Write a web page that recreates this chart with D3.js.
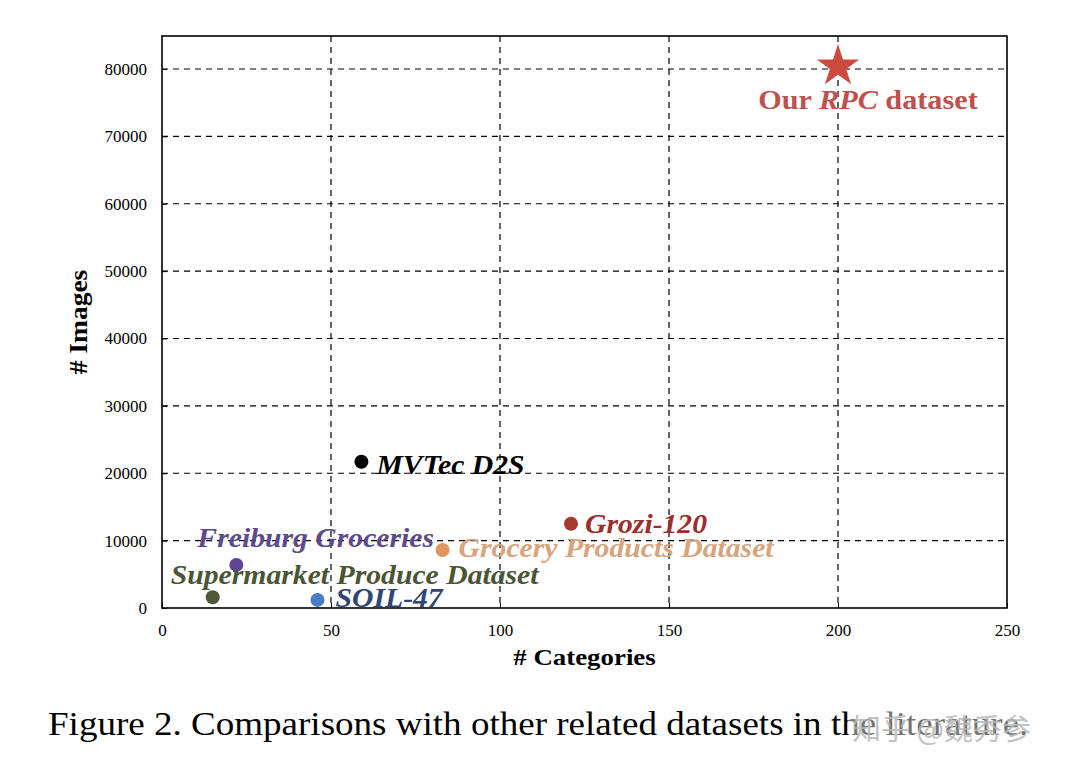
<!DOCTYPE html>
<html><head><meta charset="utf-8">
<script src="https://cdn.jsdelivr.net/npm/d3@7"></script>
<style>body{margin:0;background:#fff}svg{display:block}</style>
</head><body>
<svg id="c" width="1080" height="770"></svg>
<script>
const names = ["Our RPC dataset","MVTec D2S","Grozi-120","Grocery Products Dataset","Freiburg Groceries","Supermarket Produce Dataset","SOIL-47"];
const categories = [200, 59, 121, 83, 22, 15, 46];
const images = [80700, 21700, 12500, 8600, 6400, 1600, 1200];
const dotColors = ["#cc4a3e","#000000","#a53a30","#e0975f","#5e4596","#4d5b38","#4a7cc4"];
const labelColors = ["#c0504d","#000000","#9a2f2c","#d6a47e","#5d4a8c","#4b5536","#2f4676"];
const xTicks = [0,50,100,150,200,250];
const yTicks = [0,10000,20000,30000,40000,50000,60000,70000,80000];

const svg = d3.select("#c");
const L=162,R=1007,T=36,B=608;
const x = d3.scaleLinear().domain([0,250]).range([L,R]);
const y = d3.scaleLinear().domain([0,80000]).range([B,69]);
const serif = "'Liberation Serif','Times New Roman',serif";

// grid
const g = svg.append("g");
g.selectAll(".gx").data(xTicks.slice(1,-1)).enter().append("line")
  .attr("x1",d=>x(d)).attr("x2",d=>x(d)).attr("y1",T).attr("y2",B)
  .attr("stroke","#000").attr("stroke-width",1.2).attr("stroke-dasharray","6,5");
g.selectAll(".gy").data(yTicks.slice(1)).enter().append("line")
  .attr("x1",L).attr("x2",R).attr("y1",d=>y(d)).attr("y2",d=>y(d))
  .attr("stroke","#000").attr("stroke-width",1.2).attr("stroke-dasharray","6,5");

// axes
const xa = svg.append("g").attr("transform",`translate(0,${B})`)
  .call(d3.axisBottom(x).tickValues(xTicks).tickSize(-5).tickPadding(16).tickFormat(d3.format("d")));
const ya = svg.append("g").attr("transform",`translate(${L},0)`)
  .call(d3.axisLeft(y).tickValues(yTicks).tickSize(-5).tickPadding(15).tickFormat(d3.format("d")));
[xa,ya].forEach(a=>{
  a.attr("font-family",serif).attr("font-size",17);
  a.select(".domain").remove();
  a.selectAll("text").attr("fill","#000");
  a.selectAll("line").attr("stroke","#000");
});
svg.append("rect").attr("x",L).attr("y",T).attr("width",R-L).attr("height",B-T)
  .attr("fill","none").attr("stroke","#000").attr("stroke-width",1.6);

// stretched text helper
function txt(px,py,size,sx,anchor,rot){
  return svg.append("text")
    .attr("transform",`translate(${px},${py})${rot?` rotate(${rot})`:""} scale(${sx},1)`)
    .attr("text-anchor",anchor).attr("font-family",serif).attr("font-size",size);
}

// axis titles
txt((L+R)/2,665,24,1.12,"middle").attr("font-weight","bold").text("# Categories");
txt(87,(T+B)/2,25,1.1,"middle",-90).attr("font-weight","bold").text("# Images");

// points
const data = names.map((n,i)=>({n,c:categories[i],v:images[i],dc:dotColors[i],lc:labelColors[i]}));
data.forEach((d,i)=>{
  if(i===0){
    svg.append("path").attr("d",d3.symbol().type(d3.symbolStar).size(560)())
      .attr("transform",`translate(${x(d.c)},${y(d.v)+2})`).attr("fill",d.dc);
  } else {
    svg.append("circle").attr("cx",x(d.c)).attr("cy",y(d.v)).attr("r",7).attr("fill",d.dc);
  }
});
// labels (offsets relative to point)
const offs = [[30,45,"middle"],[15,12,"start"],[14,9,"start"],[16,7,"start"],[-39,-18,"start"],[-42,-13,"start"],[18,7,"start"]];
data.forEach((d,i)=>{
  const t = txt(x(d.c)+offs[i][0], y(d.v)+offs[i][1], i===0?27.5:27, 1.1, offs[i][2])
    .attr("font-weight","bold").attr("fill",d.lc);
  if(i===0){
    t.append("tspan").text("Our ");
    t.append("tspan").attr("font-style","italic").text("RPC");
    t.append("tspan").text(" dataset");
  } else {
    t.attr("font-style","italic").text(d.n);
  }
});

// caption
txt(48,735,34,1.09,"start").attr("fill","#000")
  .text("Figure 2. Comparisons with other related datasets in the literature.");
svg.append("rect").attr("x",848).attr("y",708).attr("width",210).attr("height",40)
  .attr("fill","#fff").attr("opacity",0.45);
svg.append("text").attr("x",852).attr("y",740).attr("font-family","'Noto Sans CJK SC',sans-serif")
  .attr("font-size",29).attr("fill","#b8b8b8").attr("opacity",0.85).text("知乎 @魏秀参");
</script>
</body></html>
